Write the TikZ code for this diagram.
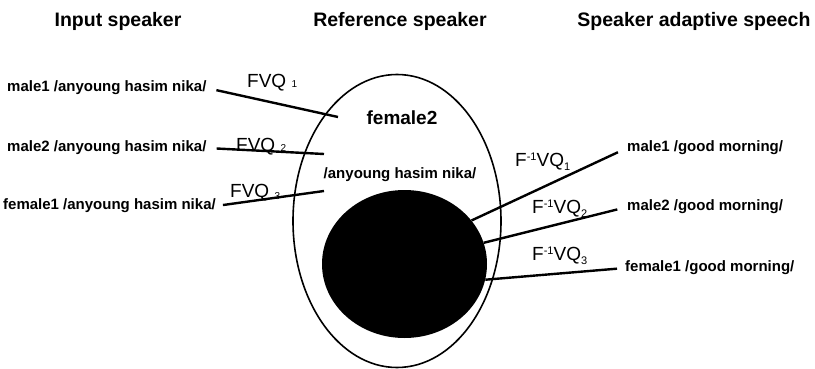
\documentclass[tikz,border=0pt]{standalone}
\usepackage{fontspec}
\setmainfont{Liberation Sans}
\usetikzlibrary{shapes.geometric}

% small raised / lowered indices for the VQ labels
\newcommand\vqup[1]{\raisebox{6pt}{\fontsize{11}{11}\selectfont #1}}
\newcommand\vqdown[1]{\raisebox{-4pt}{\fontsize{11}{11}\selectfont #1}}
\newcommand\vqidx[1]{{\fontsize{10}{10}\selectfont #1}}

\begin{document}
\begin{tikzpicture}[x=1pt,y=-1pt,
  title/.style={font=\fontsize{19.5}{20}\selectfont\bfseries, inner sep=0pt},
  utter/.style={font=\fontsize{15}{16}\selectfont\bfseries, inner sep=0pt},
  vq/.style={font=\fontsize{19}{19}\selectfont, inner sep=0pt},
  link/.style={line width=2.4pt},
]
\useasboundingbox (0,0) rectangle (815,369);

% column headings
\node[title] (tin)  at (118,21) {Input speaker};
\node[title] (tref) at (400,21) {Reference speaker};
\node[title] (tout) at (694,21) {Speaker adaptive speech};

% reference speaker space and its codebook
\node[draw, ellipse, line width=1.6pt, minimum width=208pt, minimum height=293pt, inner sep=0pt] (refspk) at (397,221) {};
\node[ellipse, fill=black, minimum width=165pt, minimum height=148pt, inner sep=0pt] (core) at (404.5,264) {};
\node[font=\fontsize{19}{19}\selectfont\bfseries, inner sep=0pt] (fem2) at (402,118) {female2};
\node[utter] (refutt) at (400,175) {/anyoung hasim nika/};

% input utterances
\node[utter, anchor=west] (in1) at (7,88)  {male1 /anyoung hasim nika/};
\node[utter, anchor=west] (in2) at (7,148) {male2 /anyoung hasim nika/};
\node[utter, anchor=west] (in3) at (3,206) {female1 /anyoung hasim nika/};
\coordinate (e1) at (338,117);
\coordinate (e2) at (324,154);
\coordinate (e3) at (324,191);
\draw[link, shorten <=10pt] (in1.east) -- (e1);
\draw[link, shorten <=10pt] (in2.east) -- (e2);
\draw[link, shorten <=7pt]  (in3.east) -- (e3);

\node[vq, anchor=base west] (q1) at (247,88)  {FVQ \vqidx{1}};
\node[vq, anchor=base west] (q2) at (236,152) {FVQ \vqidx{2}};
\node[vq, anchor=base west] (q3) at (230,197) {FVQ \raisebox{-2pt}{\vqidx{3}}};

% adapted output utterances
\node[utter, anchor=west] (out1) at (627,148) {male1 /good morning/};
\node[utter, anchor=west] (out2) at (627,207) {male2 /good morning/};
\node[utter, anchor=west] (out3) at (625,268) {female1 /good morning/};
\draw[link, shorten >=10pt] (core.33)  -- (out1.west);
\draw[link, shorten >=10pt] (core.15)  -- (out2.west);
\draw[link, shorten >=8pt]  (core.-11) -- (out3.west);

\node[vq, anchor=base west] (p1) at (515,167) {F\vqup{-1}VQ\vqdown{1}};
\node[vq, anchor=base west] (p2) at (532,213) {F\vqup{-1}VQ\vqdown{2}};
\node[vq, anchor=base west] (p3) at (532,260) {F\vqup{-1}VQ\vqdown{3}};
\end{tikzpicture}
\end{document}
